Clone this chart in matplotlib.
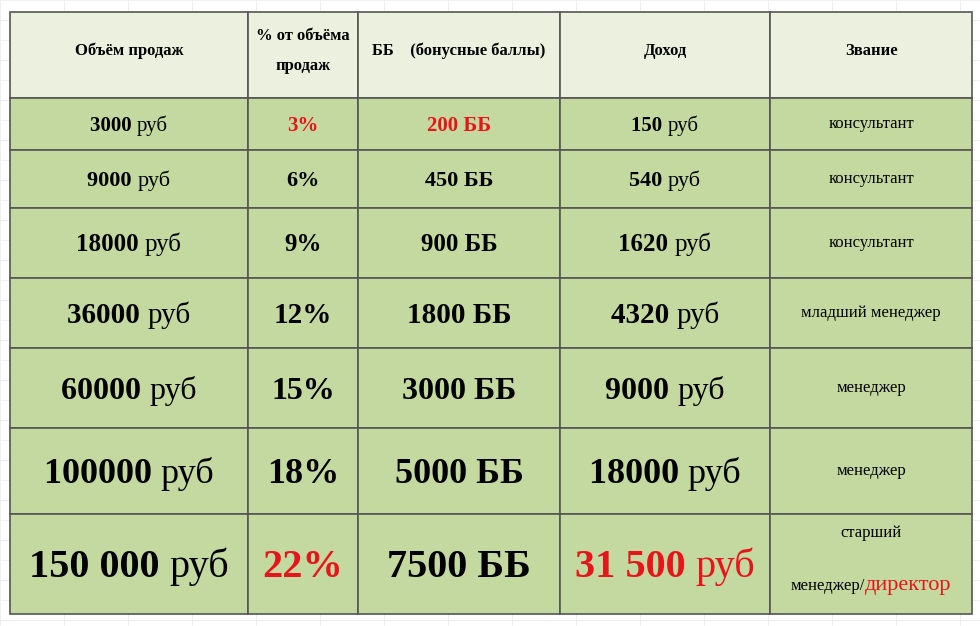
import matplotlib
matplotlib.use("Agg")
import matplotlib.pyplot as plt
from matplotlib.patches import Rectangle

headers = ["Объём продаж", "% от объёма\nпродаж", "ББ    (бонусные баллы)", "Доход", "Звание"]
volumes = ["3000", "9000", "18000", "36000", "60000", "100000", "150 000"]
percents = ["3%", "6%", "9%", "12%", "15%", "18%", "22%"]
bonus = ["200", "450", "900", "1800", "3000", "5000", "7500"]
income = ["150", "540", "1620", "4320", "9000", "18000", "31 500"]
ranks = ["консультант", "консультант", "консультант", "младший менеджер", "менеджер", "менеджер", "старший"]

col_x = [10, 248, 358, 560, 770, 972]
row_y = [12, 98, 150, 208, 278, 348, 428, 514, 614]
sizes = [15, 16, 18, 21, 23, 26, 29]
RED = "#e8141b"
FONT = "Liberation Serif"

fig = plt.figure(figsize=(9.8, 6.26), dpi=100)
ax = fig.add_axes([0, 0, 1, 1])
ax.set_xlim(0, 980); ax.set_ylim(626, 0); ax.axis("off")
for x in range(0, 980, 64):
    ax.plot([x, x], [0, 626], color="#ececec", lw=0.6, zorder=0)
for y in range(0, 626, 20):
    ax.plot([0, 980], [y, y], color="#ececec", lw=0.6, zorder=0)

for r in range(8):
    for c in range(5):
        ax.add_patch(Rectangle((col_x[c], row_y[r]), col_x[c+1]-col_x[c], row_y[r+1]-row_y[r],
                               facecolor="#ebf1de" if r == 0 else "#c4d9a0",
                               edgecolor="#555555", lw=1.2, zorder=1))

fig.canvas.draw()
rend = fig.canvas.get_renderer()

def pieces(xc, yc, parts):
    objs = []
    for (t, w, col, s) in parts:
        objs.append(ax.text(0, yc, t, fontsize=s, fontweight=w, color=col, family=FONT,
                            ha="left", va="baseline", zorder=3))
    widths = [o.get_window_extent(rend).width for o in objs]
    x = xc - sum(widths) / 2
    maxs = max(p[3] for p in parts)
    for o, w in zip(objs, widths):
        o.set_position((x, yc + maxs * 100 / 72 * 0.33))
        x += w

def cx(c):
    return (col_x[c] + col_x[c+1]) / 2

for c, h in enumerate(headers):
    ax.text(cx(c), (row_y[0] + row_y[1]) / 2 - 4, h, fontsize=12, fontweight="bold", family=FONT,
            ha="center", va="center", linespacing=2.2, zorder=3)

for i in range(7):
    yc = (row_y[i+1] + row_y[i+2]) / 2
    s = sizes[i]
    pieces(cx(0), yc, [(volumes[i] + " ", "bold", "black", s), ("руб", "normal", "black", s)])
    pcol = RED if i in (0, 6) else "black"
    pieces(cx(1), yc, [(percents[i], "bold", pcol, s)])
    bcol = RED if i == 0 else "black"
    pieces(cx(2), yc, [(bonus[i] + " ББ", "bold", bcol, s)])
    icol = RED if i == 6 else "black"
    pieces(cx(3), yc, [(income[i] + " ", "bold", icol, s), ("руб", "normal", icol, s)])
    if i < 6:
        ax.text(cx(4), yc, ranks[i], fontsize=12, family=FONT, ha="center", va="center", zorder=3)
    else:
        ax.text(cx(4), yc - 31, ranks[i], fontsize=12, family=FONT, ha="center", va="center", zorder=3)
        pieces(cx(4), yc + 19, [("менеджер/", "normal", "black", 12), ("директор", "normal", RED, 16)])

fig.savefig("out.png", dpi=100)
